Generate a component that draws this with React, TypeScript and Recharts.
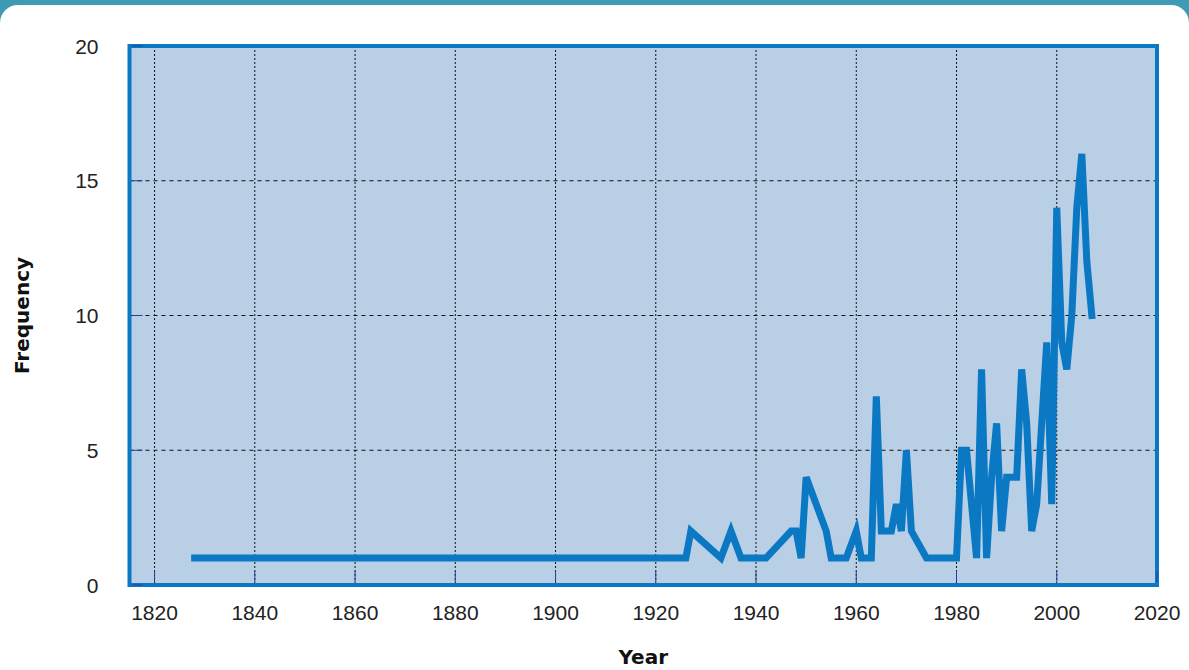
import React from 'react';
import { LineChart, Line, XAxis, YAxis, CartesianGrid, ReferenceArea } from 'recharts';

const years = [
  1828, 1926, 1927, 1933, 1935, 1937, 1940, 1941, 1942, 1947, 1948, 1949, 1950, 1954, 1955,
  1957, 1958, 1960, 1961, 1963, 1964, 1965, 1967, 1968, 1969, 1970, 1971, 1974, 1975, 1976,
  1978, 1980, 1981, 1982, 1984, 1985, 1986, 1987, 1988, 1989, 1990, 1991, 1992, 1993, 1994,
  1995, 1996, 1998, 1999, 2000, 2001, 2002, 2003, 2004, 2005, 2006, 2007,
];
const frequency = [
  1, 1, 2, 1, 2, 1, 1, 1, 1, 2, 2, 1, 4, 2, 1,
  1, 1, 2, 1, 1, 7, 2, 2, 3, 2, 5, 2, 1, 1, 1,
  1, 1, 5, 5, 1, 8, 1, 4, 6, 2, 4, 4, 4, 8, 6,
  2, 3, 9, 3, 14, 9, 8, 10, 14, 16, 12, 10,
];
const xTicks = [1820, 1840, 1860, 1880, 1900, 1920, 1940, 1960, 1980, 2000, 2020];
const yTicks = [0, 5, 10, 15, 20];

const data = years.map((year, i) => ({ year, frequency: frequency[i] }));

const BLUE = '#0a78c2';
const TICK_MARK = '#2c3c9c';
const FONT = '"Liberation Sans", Arial, sans-serif';

// labels sit below/left of the box, small navy marks go inside it
const XTick = ({ x, y, payload }: any) => (
  <g>
    <line x1={x} x2={x} y1={y - 14} y2={y - 3} stroke={TICK_MARK} strokeWidth={1} />
    <text x={x} y={y + 27} textAnchor="middle" dominantBaseline="central" fill="#222" fontSize={21} fontFamily={FONT}>
      {payload.value}
    </text>
  </g>
);

const YTick = ({ x, y, payload }: any) => (
  <g>
    <line x1={x + 3} x2={x + 13} y1={y} y2={y} stroke={TICK_MARK} strokeWidth={1} />
    <text x={x - 31} y={y} textAnchor="end" dominantBaseline="central" fill="#222" fontSize={21} fontFamily={FONT}>
      {payload.value}
    </text>
  </g>
);

const RightTick = ({ x, y }: any) => (
  <line x1={x - 13} x2={x - 3} y1={y} y2={y} stroke={TICK_MARK} strokeWidth={1} />
);

export default function App() {
  return (
    <div style={{ position: 'fixed', inset: 0, background: '#3f9bb4', overflow: 'hidden' }}>
      <div
        style={{
          position: 'absolute',
          top: 5,
          left: 0,
          right: 0,
          bottom: -20,
          background: '#fff',
          borderTopLeftRadius: 18,
          borderTopRightRadius: 18,
        }}
      />
      <div style={{ position: 'absolute', top: 0, left: 0 }}>
        <LineChart width={1189} height={670} data={data} margin={{ top: 46, right: 0, left: 0, bottom: 0 }}>
          <CartesianGrid fill="#b8cfe6" fillOpacity={1} vertical={false} stroke="#111" strokeDasharray="4 4" />
          <CartesianGrid horizontal={false} stroke="#111" strokeDasharray="2 2" />
          <XAxis
            dataKey="year"
            type="number"
            domain={[1815, 2020]}
            ticks={xTicks}
            axisLine={false}
            tickLine={false}
            tickSize={0}
            tickMargin={0}
            height={85}
            tick={<XTick />}
            interval={0}
            label={{
              value: 'Year',
              position: 'insideBottom',
              offset: 6,
              style: { fontFamily: '"DejaVu Sans", sans-serif', fontWeight: 700, fontSize: 20, fill: '#111' },
            }}
          />
          <YAxis
            type="number"
            domain={[0, 20]}
            ticks={yTicks}
            axisLine={false}
            tickLine={false}
            tickSize={0}
            tickMargin={0}
            width={129.5}
            tick={<YTick />}
            interval={0}
            label={{
              value: 'Frequency',
              angle: -90,
              position: 'insideLeft',
              offset: 22,
              style: { textAnchor: 'middle', fontFamily: '"DejaVu Sans", sans-serif', fontWeight: 700, fontSize: 20, fill: '#111' },
            }}
          />
          <YAxis
            yAxisId="right"
            orientation="right"
            type="number"
            domain={[0, 20]}
            ticks={[5, 10, 15]}
            axisLine={false}
            tickLine={false}
            tickSize={0}
            tickMargin={0}
            width={32}
            tick={<RightTick />}
            interval={0}
          />
          <ReferenceArea x1={1815} x2={2020} y1={0} y2={20} fill="none" stroke={BLUE} strokeWidth={4} ifOverflow="visible" />
          <Line
            type="linear"
            dataKey="frequency"
            stroke={BLUE}
            strokeWidth={7}
            strokeLinecap="square"
            dot={false}
            activeDot={false}
            isAnimationActive={false}
          />
        </LineChart>
      </div>
    </div>
  );
}
